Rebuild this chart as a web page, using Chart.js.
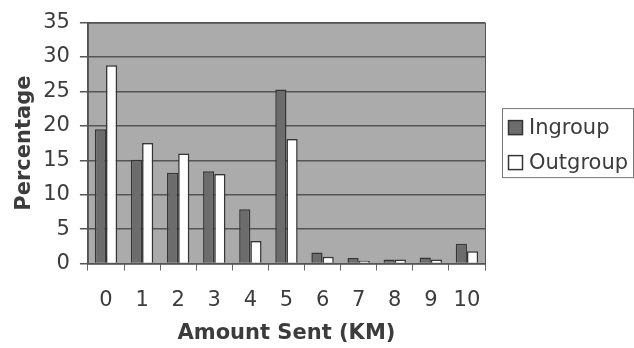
<!DOCTYPE html>
<html>
<head>
<meta charset="utf-8">
<script src="https://cdn.jsdelivr.net/npm/chart.js@4/dist/chart.umd.min.js"></script>
<style>
  html, body { margin: 0; padding: 0; background: #fff; }
  #wrap { width: 634px; height: 348px; }
</style>
</head>
<body>
<div id="wrap"><canvas id="grafico" width="634" height="348"></canvas></div>
<script>
// valores (percentagem por quantia enviada)
const categorias = ['0', '1', '2', '3', '4', '5', '6', '7', '8', '9', '10'];
const ingroup = [19.5, 15.1, 13.2, 13.4, 7.9, 25.3, 1.6, 0.8, 0.6, 0.9, 2.9];
const outgroup = [28.8, 17.5, 16.0, 13.0, 3.3, 18.1, 1.0, 0.4, 0.6, 0.6, 1.8];
const yTicks = [0, 5, 10, 15, 20, 25, 30, 35];

const fonte = 'DejaVu Sans, Verdana, sans-serif';
const corTexto = '#3c3c3c';

// fundo cinza da área do gráfico, moldura e legenda desenhada à mão
const fundoPlugin = {
  id: 'fundo',
  beforeDraw(chart) {
    const { ctx, chartArea: a } = chart;
    ctx.save();
    ctx.fillStyle = '#ababab';
    ctx.fillRect(a.left, a.top, a.right - a.left, a.bottom - a.top);
    ctx.restore();
  },
  afterDraw(chart) {
    const { ctx, chartArea: a } = chart;
    ctx.save();
    ctx.strokeStyle = '#555';
    ctx.lineWidth = 1;
    ctx.strokeRect(a.left + 0.5, a.top + 0.5, a.right - a.left, a.bottom - a.top);

    // legenda
    const ds = chart.data.datasets;
    const esq = a.right + 17, meio = (a.top + a.bottom) / 2;
    const passo = 35, topo = meio - 35;
    ctx.strokeStyle = '#777';
    ctx.strokeRect(esq + 0.5, topo + 0.5, chart.width - esq - 1, 69);
    ctx.font = '21px ' + fonte;
    ctx.textBaseline = 'middle';
    ds.forEach((d, i) => {
      const cy = topo + 19 + i * passo;
      ctx.fillStyle = d.backgroundColor;
      ctx.fillRect(esq + 6, cy - 7, 15, 15);
      ctx.strokeStyle = d.borderColor;
      ctx.lineWidth = 1.5;
      ctx.strokeRect(esq + 6.5, cy - 6.5, 14, 14);
      ctx.fillStyle = corTexto;
      ctx.fillText(d.label, esq + 27, cy + 1);
    });
    ctx.restore();
  }
};

new Chart(document.getElementById('grafico').getContext('2d'), {
  type: 'bar',
  data: {
    labels: categorias,
    datasets: [
      { label: 'Ingroup', data: ingroup, backgroundColor: '#6c6c6c', borderColor: '#353535', borderWidth: 1.5 },
      { label: 'Outgroup', data: outgroup, backgroundColor: '#ffffff', borderColor: '#353535', borderWidth: 1.5 }
    ]
  },
  options: {
    responsive: false,
    animation: false,
    layout: { padding: { top: 20, right: 149, left: 12, bottom: 2 } },
    datasets: { bar: { categoryPercentage: 0.62, barPercentage: 1.0 } },
    plugins: {
      tooltip: { enabled: false },
      legend: { display: false }
    },
    scales: {
      x: {
        grid: { offset: true, drawOnChartArea: false, color: '#666', tickLength: 7 },
        border: { color: '#555' },
        ticks: { font: { family: fonte, size: 21 }, color: corTexto, padding: 17, maxRotation: 0 },
        title: { display: true, text: 'Amount Sent (KM)', font: { family: fonte, size: 21, weight: 'bold' }, color: corTexto, padding: { top: -9, bottom: 0 } }
      },
      y: {
        min: 0,
        max: 35,
        afterBuildTicks(axis) { axis.ticks = yTicks.map(v => ({ value: v })); },
        grid: { color: '#555', lineWidth: 1.5, tickLength: 8 },
        border: { color: '#555' },
        ticks: { font: { family: fonte, size: 21 }, color: corTexto, padding: 10 },
        title: { display: true, text: 'Percentage', font: { family: fonte, size: 21, weight: 'bold' }, color: corTexto, padding: { top: 0, bottom: -4 } }
      }
    }
  },
  plugins: [fundoPlugin]
});
</script>
</body>
</html>
